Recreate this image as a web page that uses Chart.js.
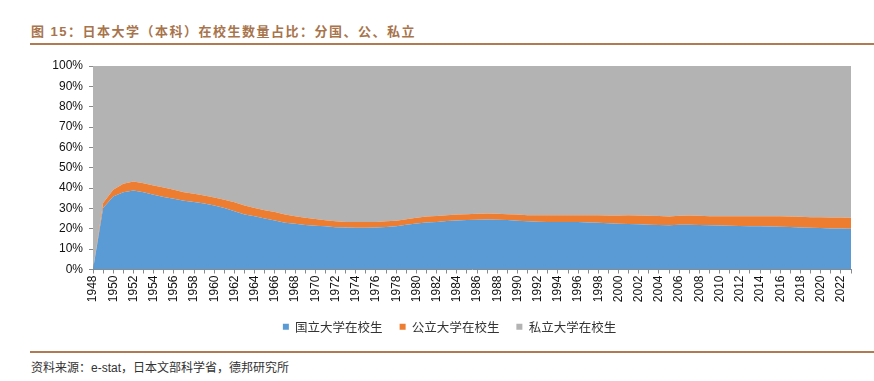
<!DOCTYPE html>
<html><head><meta charset="utf-8">
<script src="https://cdn.jsdelivr.net/npm/chart.js@4"></script>
<style>
html,body{margin:0;padding:0;background:#fff;width:874px;height:381px;overflow:hidden;position:relative;font-family:"Liberation Sans",Arial,"Noto Sans CJK SC",sans-serif;}
#title{position:absolute;left:31px;top:21px;font-size:13px;font-weight:bold;color:#a8744c;letter-spacing:1.5px;font-family:"Liberation Sans","Noto Sans CJK SC",sans-serif;white-space:nowrap;}
.rule{position:absolute;left:30px;width:844px;height:2px;background:#b07b52;}
#src{position:absolute;left:31px;top:358px;font-size:12px;color:#333;letter-spacing:0;font-family:"Liberation Sans","Noto Sans CJK SC",sans-serif;white-space:nowrap;}
#wrap{position:absolute;left:0;top:50px;width:874px;height:295px;}
</style></head>
<body>
<div id="title">图 15：日本大学（本科）在校生数量占比：分国、公、私立</div>
<div class="rule" style="top:43px"></div>
<div id="wrap"><canvas id="c"></canvas></div>
<div class="rule" style="top:351px"></div>
<div id="src">资料来源：e-stat，日本文部科学省，德邦研究所</div>
<script>
const years = [];
for (let y = 1948; y <= 2023; y++) years.push(String(y));

// 国立大学在校生 share (%)
const national = [
 0.0, 30.2, 35.9, 38.0, 38.8, 38.0, 36.7, 35.6, 34.8, 33.8,
 33.2, 32.4, 31.4, 30.2, 28.6, 27.0, 26.2, 25.1, 24.1, 23.0,
 22.5, 21.9, 21.5, 21.2, 20.8, 20.6, 20.5, 20.5, 20.6, 20.9,
 21.3, 22.0, 22.6, 23.1, 23.4, 23.8, 24.1, 24.3, 24.5, 24.6,
 24.5, 24.3, 24.0, 23.7, 23.5, 23.4, 23.3, 23.3, 23.3, 23.1,
 23.0, 22.7, 22.5, 22.4, 22.2, 22.0, 21.9, 21.7, 22.0, 22.0,
 21.9, 21.7, 21.6, 21.5, 21.4, 21.3, 21.2, 21.1, 21.0, 20.9,
 20.7, 20.5, 20.4, 20.2, 20.1, 20.0
];
// 公立大学在校生 share (%)
const publicU = [
 0.0, 2.5, 3.3, 4.1, 4.4, 4.4, 4.6, 4.7, 4.4, 4.2,
 4.0, 4.0, 4.0, 4.1, 4.4, 4.4, 4.0, 4.0, 4.1, 4.0,
 3.7, 3.5, 3.3, 3.0, 2.9, 2.8, 2.8, 2.8, 2.8, 2.8,
 2.7, 2.7, 2.8, 2.9, 2.9, 2.9, 2.9, 2.9, 2.9, 2.9,
 2.9, 2.9, 3.0, 3.0, 3.1, 3.2, 3.3, 3.3, 3.4, 3.5,
 3.6, 3.8, 4.0, 4.2, 4.3, 4.4, 4.4, 4.3, 4.4, 4.5,
 4.5, 4.5, 4.6, 4.7, 4.8, 4.9, 5.0, 5.1, 5.2, 5.2,
 5.2, 5.2, 5.3, 5.3, 5.4, 5.4
];
// 私立大学在校生 share (%) = remainder
const privateU = national.map((v, i) => +(100 - v - publicU[i]).toFixed(1));

const seriesNames = ['国立大学在校生', '公立大学在校生', '私立大学在校生'];
const colors = ['#5b9bd5', '#ed7d31', '#b3b3b3'];

const mk = (label, data, color, fill) => ({
  label, data, backgroundColor: color, borderColor: color, borderWidth: 0,
  pointRadius: 0, fill, tension: 0
});

new Chart(document.getElementById('c'), {
  type: 'line',
  data: {
    labels: years,
    datasets: [
      mk(seriesNames[0], national, colors[0], 'origin'),
      mk(seriesNames[1], publicU, colors[1], '-1'),
      mk(seriesNames[2], privateU, colors[2], '-1')
    ]
  },
  options: {
    responsive: true,
    maintainAspectRatio: false,
    animation: false,
    layout: { padding: { top: 16, right: 23, left: 48, bottom: 2 } },
    plugins: {
      legend: {
        position: 'bottom',
        labels: {
          boxWidth: 6, boxHeight: 6, padding: 17, color: '#333',
          font: { size: 12.5, family: '"Noto Sans CJK SC", sans-serif' }
        }
      },
      tooltip: { enabled: false }
    },
    scales: {
      x: {
        offset: false,
        grid: { display: true, drawOnChartArea: false, drawTicks: true, tickLength: 4, color: '#8a8a8a' },
        border: { display: true, color: '#8a8a8a' },
        ticks: {
          autoSkip: false, maxRotation: 90, minRotation: 90, padding: 2,
          color: '#111', font: { size: 12, family: '"Liberation Sans", Arial, sans-serif' },
          callback: function(v, i) { return i % 2 === 0 ? this.getLabelForValue(v) : ''; }
        },
        afterFit: s => { s.height = 34; }
      },
      y: {
        stacked: true, min: 0, max: 100,
        grid: { display: true, drawOnChartArea: false, drawTicks: true, tickLength: 4, color: '#8a8a8a' },
        border: { display: true, color: '#8a8a8a' },
        ticks: {
          stepSize: 10, padding: 6, color: '#111',
          font: { size: 12, family: '"Liberation Sans", Arial, sans-serif' },
          callback: v => v + '%'
        },
        afterFit: s => { s.width = 45; }
      }
    }
  }
});
</script>
</body></html>
